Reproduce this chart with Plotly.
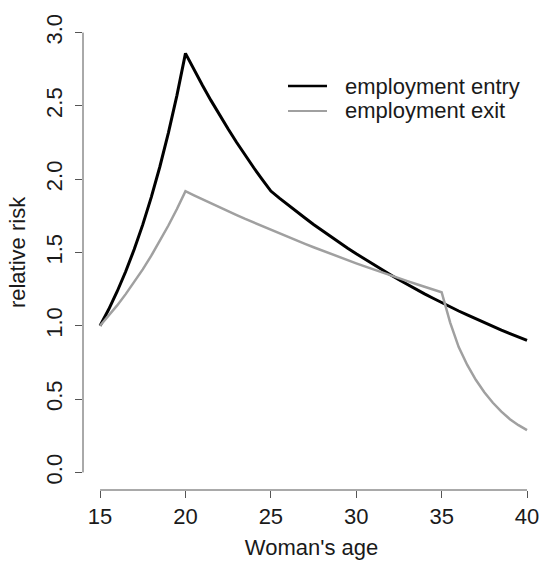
import plotly.graph_objects as go

# Relative risk by woman's age, half-year grid
age = [15 + 0.5 * i for i in range(51)]

entry_rr = [
    1.000, 1.111, 1.234, 1.370, 1.522, 1.690, 1.878, 2.085, 2.316, 2.572,
    2.858, 2.746, 2.639, 2.536, 2.437, 2.342, 2.250, 2.162, 2.078, 1.997,
    1.919, 1.871, 1.824, 1.779, 1.735, 1.691, 1.649, 1.608, 1.568, 1.529,
    1.491, 1.454, 1.417, 1.382, 1.348, 1.314, 1.281, 1.249, 1.218, 1.188,
    1.158, 1.129, 1.101, 1.074, 1.047, 1.021, 0.995, 0.970, 0.946, 0.923,
    0.900,
]

exit_rr = [
    1.000, 1.067, 1.139, 1.216, 1.298, 1.385, 1.478, 1.578, 1.684, 1.797,
    1.918, 1.890, 1.862, 1.835, 1.808, 1.781, 1.755, 1.729, 1.704, 1.679,
    1.654, 1.630, 1.606, 1.582, 1.559, 1.536, 1.513, 1.491, 1.469, 1.447,
    1.426, 1.405, 1.384, 1.364, 1.344, 1.324, 1.305, 1.285, 1.266, 1.248,
    1.229, 1.022, 0.855, 0.733, 0.632, 0.547, 0.475, 0.414, 0.363, 0.322,
    0.288,
]

series_names = ["employment entry", "employment exit"]
series_colors = ["#000000", "#a0a0a0"]
series_widths = [3, 2.5]

x_ticks = [15, 20, 25, 30, 35, 40]
y_ticks = [0.0, 0.5, 1.0, 1.5, 2.0, 2.5, 3.0]

FONT = "Liberation Sans, Arial, sans-serif"
SIZE = 22
TEXT = "#1a1a1a"
AXIS = "#555555"

fig = go.Figure()
for name, vals, col, w in zip(series_names, [entry_rr, exit_rr], series_colors, series_widths):
    fig.add_trace(go.Scatter(x=age, y=vals, mode="lines", name=name,
                             line=dict(color=col, width=w), showlegend=False))

# R-style axis lines spanning only the first to last tick
fig.add_shape(type="line", xref="x", yref="paper", x0=min(x_ticks), x1=max(x_ticks),
              y0=0, y1=0, line=dict(color=AXIS, width=1))
fig.add_shape(type="line", xref="paper", yref="y", x0=0, x1=0,
              y0=min(y_ticks), y1=max(y_ticks), line=dict(color=AXIS, width=1))

# Borderless legend in the upper right, R legend() style
leg_x0, leg_x1, leg_tx = 0.4486, 0.5339, 0.5689
leg_y, leg_dy = 0.8505, 0.0526
for i, (name, col, w) in enumerate(zip(series_names, series_colors, series_widths)):
    yy = leg_y - i * leg_dy
    fig.add_shape(type="line", xref="paper", yref="paper", x0=leg_x0, x1=leg_x1,
                  y0=yy, y1=yy, line=dict(color=col, width=w - 0.5))
    fig.add_annotation(xref="paper", yref="paper", x=leg_tx, y=yy, text=name,
                       showarrow=False, xanchor="left", yanchor="middle",
                       font=dict(family=FONT, size=SIZE, color=TEXT))

fig.update_layout(
    width=540, height=565,
    margin=dict(l=83, r=0, t=15, b=75),
    paper_bgcolor="white", plot_bgcolor="white",
    font=dict(family=FONT, size=SIZE, color=TEXT),
    showlegend=False,
    xaxis=dict(range=[14, 40.76], tickvals=x_ticks, ticktext=[str(v) for v in x_ticks],
               ticks="outside", ticklen=7, tickcolor=AXIS, tickwidth=1,
               showgrid=False, zeroline=False, showline=False,
               tickfont=dict(family=FONT, size=SIZE, color=TEXT),
               title=dict(text="Woman's age", standoff=11,
                          font=dict(family=FONT, size=SIZE, color=TEXT))),
    yaxis=dict(range=[-0.12, 3.12], tickvals=y_ticks,
               ticktext=[f"{v:.1f}" for v in y_ticks], tickangle=-90,
               ticks="outside", ticklen=7, tickcolor=AXIS, tickwidth=1,
               ticklabelstandoff=4,
               showgrid=False, zeroline=False, showline=False,
               tickfont=dict(family=FONT, size=SIZE, color=TEXT),
               title=dict(text="relative risk", standoff=10,
                          font=dict(family=FONT, size=SIZE, color=TEXT))),
)

fig.write_html("out.html")
